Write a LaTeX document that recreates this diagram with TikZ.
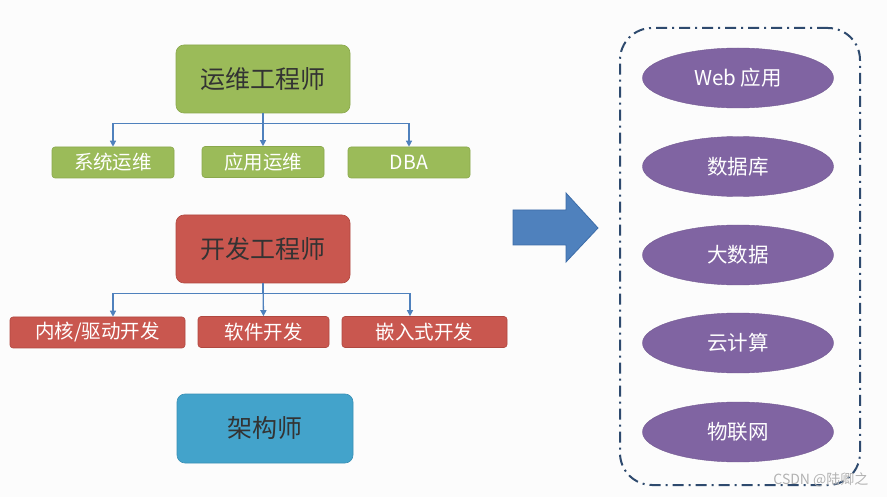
\documentclass[tikz,border=0pt]{standalone}
\usepackage{fontspec}
\setmainfont{Noto Sans CJK SC}
\usetikzlibrary{arrows.meta,shapes.geometric}
\definecolor{vgreen}{HTML}{9BBB59}
\definecolor{vgreenD}{HTML}{8AA84C}
\definecolor{vred}{HTML}{C9574F}
\definecolor{vredD}{HTML}{B04840}
\definecolor{vblue}{HTML}{43A3CB}
\definecolor{vblueD}{HTML}{3A90B5}
\definecolor{vpurple}{HTML}{8064A2}
\definecolor{connc}{HTML}{4F81BD}
\definecolor{bigarrow}{HTML}{4F81BD}
\definecolor{bigarrowD}{HTML}{3C6CA8}
\definecolor{frame}{HTML}{2E4A6E}
\definecolor{darktext}{HTML}{333333}
\definecolor{bg}{HTML}{FCFCFC}
\tikzset{
  mainbox/.style={rectangle, rounded corners=8pt, minimum width=174, minimum height=68,
    text=darktext, font=\fontsize{25}{28}\selectfont, line width=0.6pt},
  subbox/.style={rectangle, rounded corners=3pt, minimum height=31,
    text=white, font=\fontsize{19.5}{22}\selectfont, line width=0.6pt},
  greenbox/.style={fill=vgreen, draw=vgreenD},
  redbox/.style={fill=vred, draw=vredD},
  techell/.style={ellipse, fill=vpurple, draw=vpurple!90!black, line width=0.4pt,
    minimum width=191, minimum height=60, inner sep=0pt,
    text=white, font=\fontsize{20.5}{23}\selectfont},
  conn/.style={draw=connc, line width=1.3pt, -{Triangle[width=6pt,length=6pt]}},
}
\begin{document}
\begin{tikzpicture}[x=1pt,y=-1pt]
\fill[bg] (0,0) rectangle (887,497);
\useasboundingbox (0,0) rectangle (887,497);

% ops
\node[mainbox, greenbox] (yw) at (263,79) {运维工程师};
\node[subbox, greenbox, minimum width=122] (xt) at (113,162.5) {系统运维};
\node[subbox, greenbox, minimum width=122] (yy) at (263,162) {应用运维};
\node[subbox, greenbox, minimum width=122] (dba) at (409,162.5) {DBA};
\draw[conn] (yw.south) -- ++(0,10) -| (xt.north);
\draw[conn] (yw.south) -- (yy.north);
\draw[conn] (yw.south) -- ++(0,10) -| (dba.north);

% dev
\node[mainbox, redbox] (kf) at (263,249) {开发工程师};
\node[subbox, redbox, minimum width=175] (nh) at (97.5,332.5) {内核/驱动开发};
\node[subbox, redbox, minimum width=131] (rj) at (263.5,332) {软件开发};
\node[subbox, redbox, minimum width=165] (qr) at (424.5,332) {嵌入式开发};
\draw[conn] (kf.south) -- ++(0,10) -| (nh.north -| 113,0);
\draw[conn] (kf.south) -- (rj.north);
\draw[conn] (kf.south) -- ++(0,10) -| (qr.north -| 410,0);

% architect
\node[mainbox, fill=vblue, draw=vblueD, minimum width=176, minimum height=69] (jg) at (265,428.5) {架构师};

% big arrow
\fill[bigarrow, draw=bigarrowD, line width=0.8pt]
  (513,210) -- (566,210) -- (566,193) -- (598,228) -- (566,262) -- (566,245) -- (513,245) -- cycle;

% group frame
\node[draw=frame, line width=2pt, rounded corners=32pt, minimum width=240, minimum height=457,
  dash pattern=on 11pt off 5pt on 2pt off 5pt] (grp) at (740,256.5) {};

\node[techell] (web) at (738,78) {Web 应用};
\node[techell] (db) at (738,166.5) {数据库};
\node[techell] (bd) at (738,255) {大数据};
\node[techell] (cc) at (738,343) {云计算};
\node[techell] (iot) at (738,432) {物联网};

\node[text=gray!60, font=\fontsize{14}{16}\selectfont, anchor=east] (wm) at (872,480) {CSDN @陆卿之};
\end{tikzpicture}
\end{document}
